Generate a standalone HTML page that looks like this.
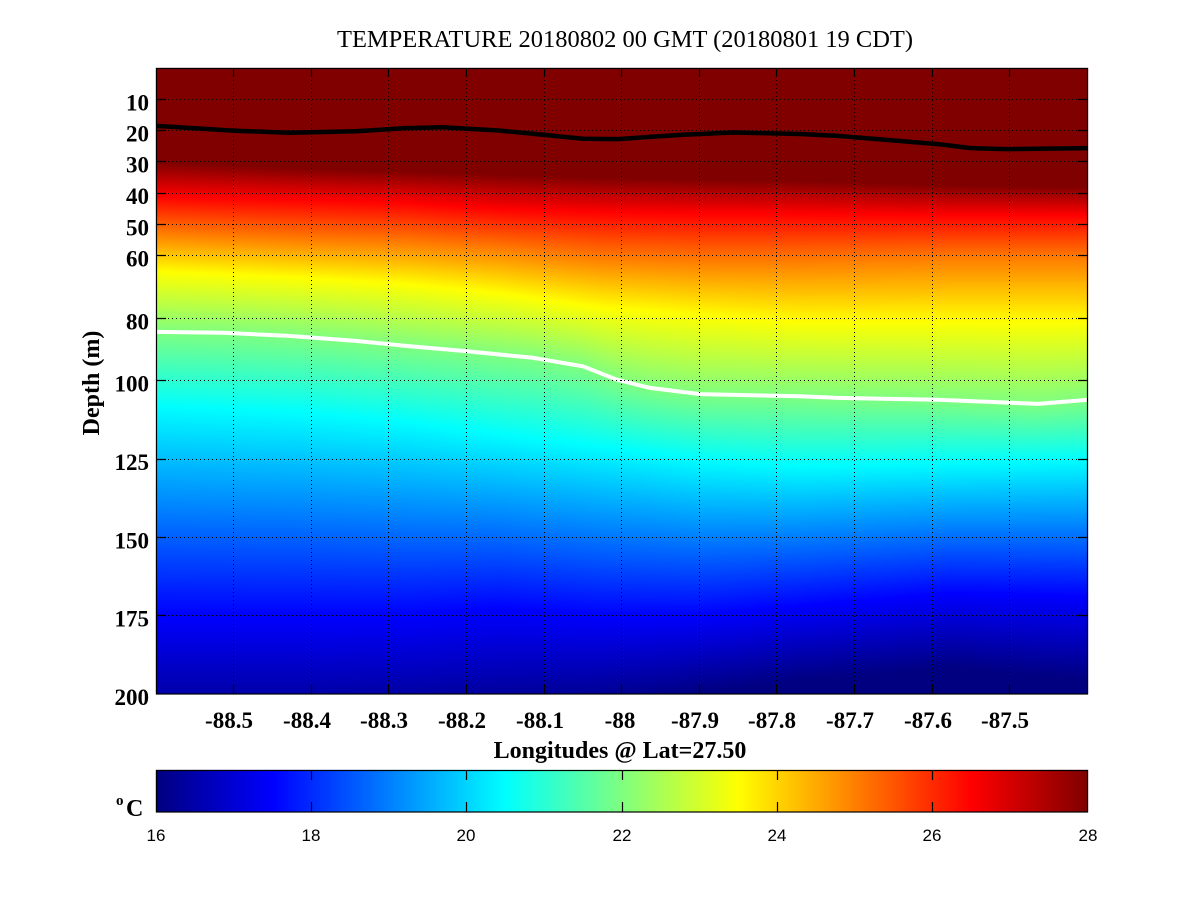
<!DOCTYPE html>
<html><head><meta charset="utf-8">
<style>
html,body{margin:0;padding:0;background:#fff;}
#wrap{position:relative;width:1201px;height:901px;overflow:hidden;background:#fff;}
canvas,svg{position:absolute;left:0;top:0;}
</style></head>
<body><div id="wrap">
<canvas id="c" width="1201" height="901"></canvas>
<svg width="1201" height="901" viewBox="0 0 1201 901" xmlns="http://www.w3.org/2000/svg">
<defs><clipPath id="pc"><rect x="156" y="68" width="932" height="626"/></clipPath></defs>
<g clip-path="url(#pc)" fill="none" stroke-linejoin="round" stroke-linecap="round">
<polyline stroke="#000" stroke-width="4.5" points="154,125.6 156,125.9 233,130.6 289,132.8 356,131.2 406,128.1 443,127.2 500,130.6 543,134.7 583,138.7 617,139.1 650,136.9 683,134.7 733,132.5 800,134.0 838,135.9 888,140.0 938,144.1 971,148.1 1005,149.1 1038,148.8 1090,148.1"/>
<polyline stroke="#fff" stroke-width="4" points="154,331.9 156,331.9 223,332.8 289,335.9 356,340.9 406,345.9 467,351.3 533,357.8 583,366.3 617,379.7 650,387.9 700,394.1 800,396.3 838,397.9 938,399.8 1038,403.9 1090,399.6"/>
</g>
<g stroke="#000" stroke-width="1" stroke-dasharray="1 3" fill="none">
<line x1="233.5" y1="68" x2="233.5" y2="694"/>
<line x1="311.5" y1="68" x2="311.5" y2="694"/>
<line x1="388.5" y1="68" x2="388.5" y2="694"/>
<line x1="466.5" y1="68" x2="466.5" y2="694"/>
<line x1="544.5" y1="68" x2="544.5" y2="694"/>
<line x1="621.5" y1="68" x2="621.5" y2="694"/>
<line x1="699.5" y1="68" x2="699.5" y2="694"/>
<line x1="776.5" y1="68" x2="776.5" y2="694"/>
<line x1="854.5" y1="68" x2="854.5" y2="694"/>
<line x1="932.5" y1="68" x2="932.5" y2="694"/>
<line x1="1009.5" y1="68" x2="1009.5" y2="694"/>
<line x1="156" y1="99.5" x2="1088" y2="99.5"/>
<line x1="156" y1="130.5" x2="1088" y2="130.5"/>
<line x1="156" y1="161.5" x2="1088" y2="161.5"/>
<line x1="156" y1="193.5" x2="1088" y2="193.5"/>
<line x1="156" y1="224.5" x2="1088" y2="224.5"/>
<line x1="156" y1="255.5" x2="1088" y2="255.5"/>
<line x1="156" y1="318.5" x2="1088" y2="318.5"/>
<line x1="156" y1="380.5" x2="1088" y2="380.5"/>
<line x1="156" y1="459.5" x2="1088" y2="459.5"/>
<line x1="156" y1="537.5" x2="1088" y2="537.5"/>
<line x1="156" y1="615.5" x2="1088" y2="615.5"/>
</g>
<g stroke="#000" stroke-width="1.2" fill="none">
<rect x="156.5" y="68.5" width="931" height="625.5"/>
<path d="M156 99.5h10M156 130.5h10M156 161.5h10M156 193.5h10M156 224.5h10M156 255.5h10M156 318.5h10M156 380.5h10M156 459.5h10M156 537.5h10M156 615.5h10"/>
<path d="M1088 99.5h-10M1088 130.5h-10M1088 161.5h-10M1088 193.5h-10M1088 224.5h-10M1088 255.5h-10M1088 318.5h-10M1088 380.5h-10M1088 459.5h-10M1088 537.5h-10M1088 615.5h-10"/>
<path d="M233.5 694v-10M311.5 694v-10M388.5 694v-10M466.5 694v-10M544.5 694v-10M621.5 694v-10M699.5 694v-10M776.5 694v-10M854.5 694v-10M932.5 694v-10M1009.5 694v-10"/>
<path d="M233.5 68v9M311.5 68v9M388.5 68v9M466.5 68v9M544.5 68v9M621.5 68v9M699.5 68v9M776.5 68v9M854.5 68v9M932.5 68v9M1009.5 68v9"/>
<rect x="156.5" y="770.5" width="931" height="41.5"/>
<path d="M311.5 770v10M466.5 770v10M622.5 770v10M777.5 770v10M932.5 770v10M311.5 812v-10M466.5 812v-10M622.5 812v-10M777.5 812v-10M932.5 812v-10"/>
</g>
<text x="625" y="47" font-family="Liberation Serif, serif" font-size="24" text-anchor="middle" textLength="576" lengthAdjust="spacingAndGlyphs" fill="#000">TEMPERATURE 20180802 00 GMT (20180801 19 CDT)</text>
<g font-family="Liberation Serif, serif" font-weight="bold" font-size="23" fill="#000" text-anchor="end">
<text x="149" y="110.5">10</text>
<text x="149" y="141.5">20</text>
<text x="149" y="172.5">30</text>
<text x="149" y="204">40</text>
<text x="149" y="235.5">50</text>
<text x="149" y="266.5">60</text>
<text x="149" y="329.5">80</text>
<text x="149" y="391.5">100</text>
<text x="149" y="470">125</text>
<text x="149" y="548.5">150</text>
<text x="149" y="626.5">175</text>
<text x="149" y="705">200</text>
</g>
<g font-family="Liberation Serif, serif" font-weight="bold" font-size="23" fill="#000" text-anchor="middle">
<text x="229" y="728">-88.5</text>
<text x="307" y="728">-88.4</text>
<text x="384" y="728">-88.3</text>
<text x="462" y="728">-88.2</text>
<text x="540" y="728">-88.1</text>
<text x="620" y="728">-88</text>
<text x="695" y="728">-87.9</text>
<text x="772" y="728">-87.8</text>
<text x="850" y="728">-87.7</text>
<text x="928" y="728">-87.6</text>
<text x="1005" y="728">-87.5</text>
</g>
<text x="620" y="758" font-family="Liberation Serif, serif" font-weight="bold" font-size="24" text-anchor="middle" fill="#000">Longitudes @ Lat=27.50</text>
<text x="0" y="0" transform="translate(99,383) rotate(-90)" font-family="Liberation Serif, serif" font-weight="bold" font-size="24" text-anchor="middle" fill="#000">Depth (m)</text>
<text x="116" y="805" font-family="Liberation Serif, serif" font-weight="bold" font-size="15" fill="#000">o</text>
<text x="126" y="816" font-family="Liberation Serif, serif" font-weight="bold" font-size="24" fill="#000">C</text>
<g font-family="Liberation Sans, sans-serif" font-size="17" fill="#000" text-anchor="middle">
<text x="156" y="841">16</text>
<text x="311" y="841">18</text>
<text x="466" y="841">20</text>
<text x="622" y="841">22</text>
<text x="777" y="841">24</text>
<text x="932" y="841">26</text>
<text x="1088" y="841">28</text>
</g>
</svg>
</div>
<script>
(function(){
var cv=document.getElementById('c');var ctx=cv.getContext('2d');
function jet(v){if(v<0)v=0;if(v>1)v=1;
 var r=1.5-Math.abs(4*v-3),g=1.5-Math.abs(4*v-2),b=1.5-Math.abs(4*v-1);
 r=Math.max(0,Math.min(1,r));g=Math.max(0,Math.min(1,g));b=Math.max(0,Math.min(1,b));
 return [Math.round(r*255),Math.round(g*255),Math.round(b*255)];}
var wp=[[156,84.3],[223,84.6],[289,85.6],[356,87.2],[406,88.8],[467,90.5],[533,92.6],[583,95.3],[617,99.6],[650,102.2],[700,104.2],[800,104.9],[838,105.4],[938,106],[1038,107.3],[1088,106]];
function interp1(pts,x){if(x<=pts[0][0])return pts[0][1];
 for(var i=0;i<pts.length-1;i++){if(x<=pts[i+1][0]){var t=(x-pts[i][0])/(pts[i+1][0]-pts[i][0]);return pts[i][1]+t*(pts[i+1][1]-pts[i][1]);}}
 return pts[pts.length-1][1];}
var cols=[
[156,[30,41,53,65,0,108,175,212]],
[300,[32,42,55,67,0,110,175,212]],
[406,[33,43,56,69,0,113,175,210]],
[500,[34,45,58,72,0,117,173,208]],
[600,[35,46,61,76.5,0,121,175,205]],
[700,[35.5,46.5,62,79,0,125,175,200]],
[800,[36,46.5,62,81,0,127,172,196]],
[950,[37.5,47,61,81,0,126,168,192]],
[1088,[38,47,61,81,0,125,169,196]]];
var temps=[28,26.5,25,23.5,22,20.5,17.5,16];
function knots(x){var k=[];
 var i=0;while(i<cols.length-2&&x>cols[i+1][0])i++;
 var a=cols[i],b=cols[i+1];var t=(x-a[0])/(b[0]-a[0]);if(t<0)t=0;if(t>1)t=1;
 for(var j=0;j<8;j++)k.push(a[1][j]+t*(b[1][j]-a[1][j]));
 k[4]=interp1(wp,x);return k;}
function T(d,k){if(d<=k[0])return 28+(k[0]-d)*0.1;
 for(var i=0;i<7;i++){if(d<=k[i+1]){return temps[i]+(temps[i+1]-temps[i])*(d-k[i])/(k[i+1]-k[i]);}}
 return 16-(d-k[7])*0.05;}
var W=932,H=626;var img=ctx.createImageData(W,H);var dat=img.data;
for(var px=0;px<W;px++){var x=156+px+0.5;var k=knots(x);
 for(var py=0;py<H;py++){var d=(py+0.5)/3.13;var c=jet((T(d,k)-16)/12);
  var o=(py*W+px)*4;dat[o]=c[0];dat[o+1]=c[1];dat[o+2]=c[2];dat[o+3]=255;}}
ctx.putImageData(img,156,68);
var cb=ctx.createImageData(W,42);var cd=cb.data;
for(var px2=0;px2<W;px2++){var c2=jet((px2+0.5)/W);
 for(var py2=0;py2<42;py2++){var o2=(py2*W+px2)*4;cd[o2]=c2[0];cd[o2+1]=c2[1];cd[o2+2]=c2[2];cd[o2+3]=255;}}
ctx.putImageData(cb,156,770);
})();
</script>
</body></html>
